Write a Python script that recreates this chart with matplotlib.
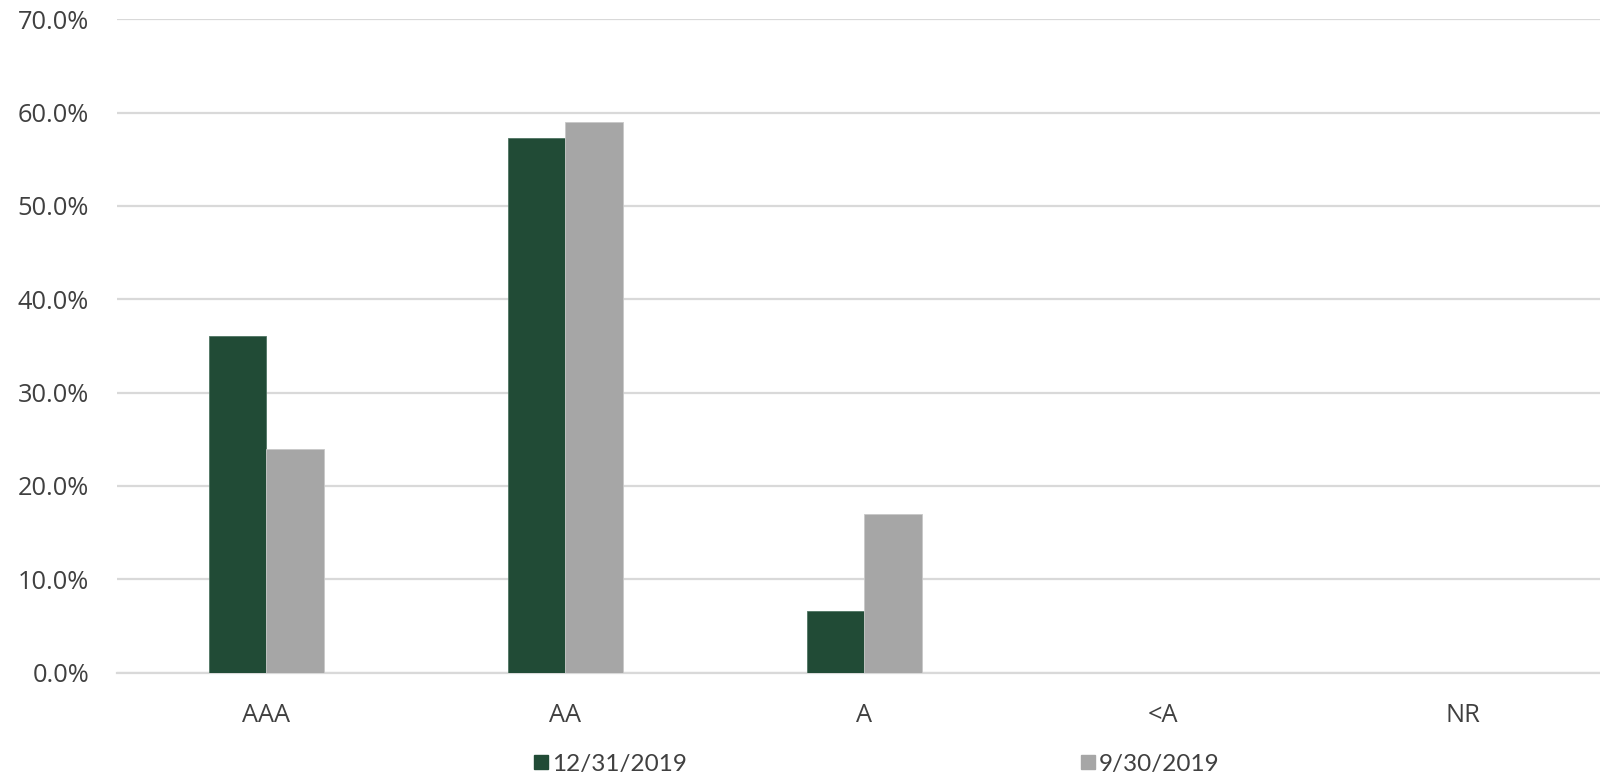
import numpy as np
import matplotlib.pyplot as plt
from matplotlib.lines import Line2D

categories = ['AAA', 'AA', 'A', '<A', 'NR']
dec2019 = [36.1, 57.3, 6.6, 0.0, 0.0]
sep2019 = [24.0, 59.0, 17.0, 0.0, 0.0]
series_names = ['12/31/2019', '9/30/2019']

green = '#214b36'
gray = '#a6a6a6'
text_col = '#404040'

fig = plt.figure(figsize=(16, 7.79), dpi=100)
# plot area runs a little past the right edge of the picture, like the original
ax = fig.add_axes([0.0731, 0.1367, 0.9344, 0.8385])

x = np.arange(len(categories))
w = 0.192
ax.bar(x - w / 2, np.array(dec2019) / 100, w, color=green, edgecolor='#4f7563', linewidth=0.6, zorder=3)
ax.bar(x + w / 2, np.array(sep2019) / 100, w, color=gray, edgecolor='#c8c8c8', linewidth=0.6, zorder=3)

ax.set_xlim(-0.5, len(categories) - 0.5)
ax.set_ylim(0, 0.7)
ax.set_yticks(np.arange(0, 0.71, 0.1))
ax.set_yticklabels([f'{v * 100:.1f}%' for v in np.arange(0, 0.71, 0.1)],
                   fontfamily='Open Sans', fontsize=18.3, color=text_col)
ax.set_xticks(x)
ax.set_xticklabels(categories, fontfamily='Open Sans', fontsize=18.3, color=text_col)
ax.tick_params(axis='y', length=0, pad=20)
ax.tick_params(axis='x', length=0, pad=22)

ax.grid(axis='y', color='#d9d9d9', linewidth=1.6, zorder=0)
ax.set_axisbelow(True)
for s in ['top', 'right', 'left']:
    ax.spines[s].set_visible(False)
ax.spines['bottom'].set_color('#d9d9d9')
ax.spines['bottom'].set_linewidth(1.6)

handles = [Line2D([], [], marker='s', linestyle='none', markersize=9.6, color=green),
           Line2D([], [], marker='s', linestyle='none', markersize=9.6, color=gray)]
fig.legend(handles, series_names, loc='center', bbox_to_anchor=(877 / 1600, 1 - 764 / 779),
           ncol=2, frameon=False, handlelength=0.6, handletextpad=0.15, columnspacing=16.2,
           prop={'family': 'Lato', 'size': 17.5}, labelcolor=text_col)

fig.savefig('out.png', dpi=100)
